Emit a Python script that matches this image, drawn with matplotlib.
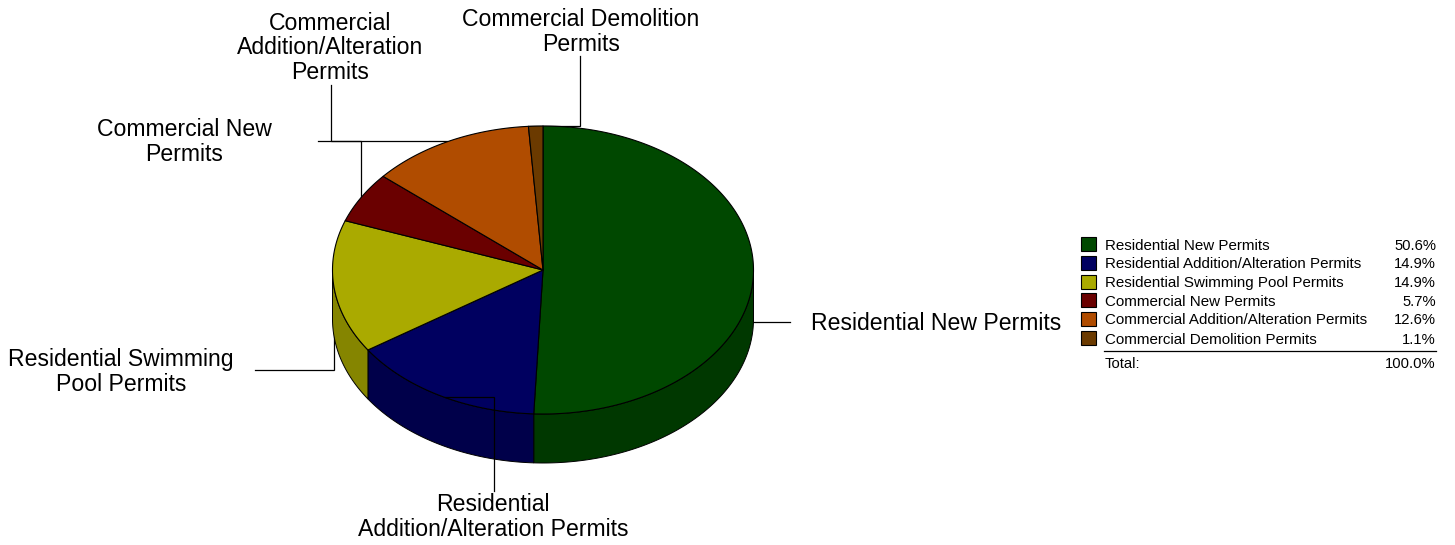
import numpy as np
import matplotlib
matplotlib.use("Agg")
import matplotlib.pyplot as plt
from matplotlib.patches import Rectangle

plt.rcParams['font.family'] = ['Liberation Sans', 'DejaVu Sans']

categories = ["Residential New Permits", "Residential Addition/Alteration Permits",
              "Residential Swimming Pool Permits", "Commercial New Permits",
              "Commercial Addition/Alteration Permits", "Commercial Demolition Permits"]
values = [50.6, 14.9, 14.9, 5.7, 12.6, 1.1]
pct_labels = ["50.6%", "14.9%", "14.9%", "5.7%", "12.6%", "1.1%"]
total_label = "100.0%"
top_colors = ["#004800", "#000060", "#AAAA00", "#6A0000", "#B04C00", "#6B3A00"]
side_colors = ["#003800", "#00004A", "#858500", "#500000", "#843900", "#502B00"]

W, H = 1455, 545
CX, CY, RX, RY, DEPTH = 543, 270, 210.5, 144, 49

fig = plt.figure(figsize=(W / 100, H / 100), dpi=100, facecolor="white")
ax = fig.add_axes([0, 0, 1, 1])
ax.set_xlim(0, W)
ax.set_ylim(H, 0)
ax.axis("off")


def rim(a0, a1, dy=0.0):
    t = np.radians(np.linspace(a0, a1, max(int(abs(a1 - a0) * 2), 2)))
    return CX + RX * np.sin(t), CY - RY * np.cos(t) + dy


# leader lines sit behind the pie, except the one drawn over the blue slice
leaders_back = [
    ([753, 790], [322, 322]),
    ([255, 334, 334], [370, 370, 315]),
    ([318, 361, 361], [141, 141, 197]),
    ([331, 331, 447], [85, 141, 141]),
    ([580, 580, 528], [56, 126, 126]),
]
for xs, ys in leaders_back:
    ax.plot(xs, ys, color="black", lw=0.9, zorder=1, solid_joinstyle="miter")

edges = np.concatenate([[0], np.cumsum(values)]) / sum(values) * 360

# side walls
for i in range(len(values)):
    a0, a1 = max(edges[i], 90), min(edges[i + 1], 270)
    if a1 <= a0:
        continue
    x, y = rim(a0, a1)
    px = np.concatenate([x, x[::-1]])
    py = np.concatenate([y, y[::-1] + DEPTH])
    ax.fill(px, py, facecolor=side_colors[i], edgecolor="black", lw=0.7, zorder=2)

# top face
for i in range(len(values)):
    x, y = rim(edges[i], edges[i + 1])
    ax.fill(np.r_[CX, x], np.r_[CY, y], facecolor=top_colors[i], edgecolor="black",
            lw=0.8, zorder=3, joinstyle="round")

ax.plot([494, 494, 445], [491, 397, 397], color="black", lw=0.9, zorder=4,
        solid_joinstyle="miter")

# pie labels
FS = 16.6
for txt, x, y in [
    ("Residential New Permits", 936, 323.5),
    ("Residential\nAddition/Alteration Permits", 493, 517),
    ("Residential Swimming\nPool Permits", 121, 372),
    ("Commercial New\nPermits", 184, 142),
    ("Commercial\nAddition/Alteration\nPermits", 330.5, 48),
    ("Commercial Demolition\nPermits", 581, 32),
]:
    ax.text(x, y, txt, ha="center", va="center", fontsize=FS, color="black",
            linespacing=1.08, zorder=6)

# legend
LEG_FS = 10.92
PCT_FS = 10.6
row_ys = [245.5, 264, 283, 301.5, 320.5, 339.5]
for i, ly in enumerate(row_ys):
    ax.add_patch(Rectangle((1080.5, ly - 8.5), 15, 14, facecolor=top_colors[i],
                           edgecolor="black", lw=0.8, zorder=5))
    ax.text(1105, ly, categories[i], ha="left", va="center", fontsize=LEG_FS, color="black")
    ax.text(1436, ly, pct_labels[i], ha="right", va="center", fontsize=PCT_FS, color="black")
ax.plot([1104, 1436], [350.5, 350.5], color="black", lw=0.9)
ax.text(1105, 363.5, "Total:", ha="left", va="center", fontsize=PCT_FS, color="black")
ax.text(1436, 363.5, total_label, ha="right", va="center", fontsize=PCT_FS, color="black")

fig.savefig("out.png", dpi=100, facecolor="white")
